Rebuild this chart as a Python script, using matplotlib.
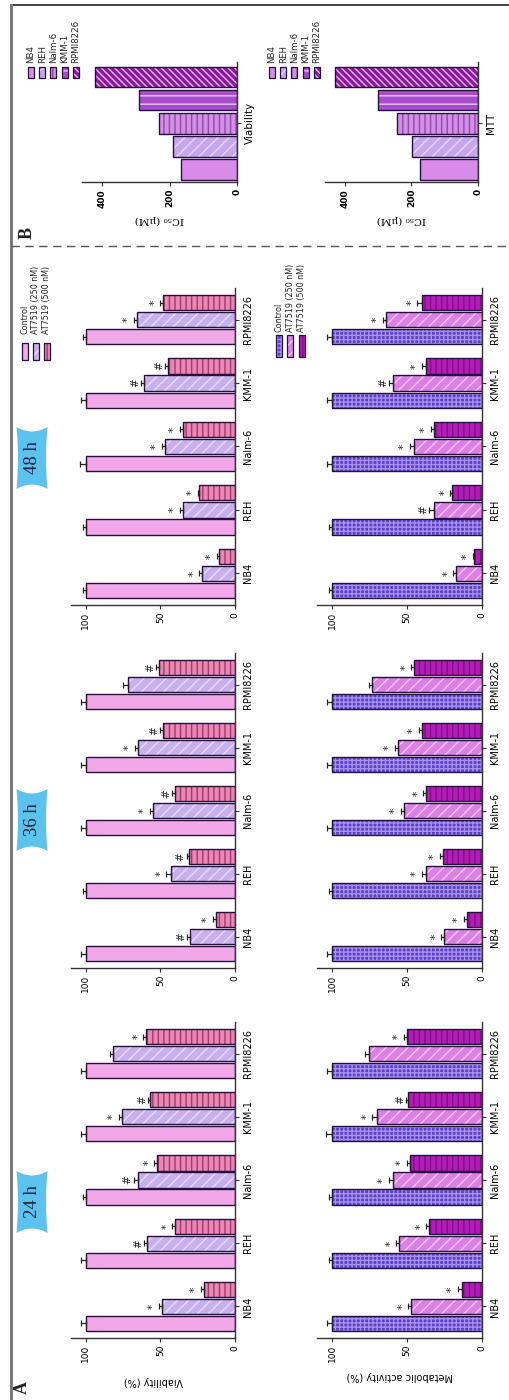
import matplotlib
matplotlib.use('Agg')
import matplotlib.pyplot as plt
from matplotlib.patches import Rectangle, PathPatch
from matplotlib.path import Path
import numpy as np

plt.rcParams['font.family'] = ['DejaVu Sans']
plt.rcParams['hatch.linewidth'] = 1.0

# ---------------- data ----------------
cells = ['NB4', 'REH', 'Nalm-6', 'KMM-1', 'RPMI8226']
treatments = ['Control', 'AT7519 (250 nM)', 'AT7519 (500 nM)']
times = ['24 h', '36 h', '48 h']

via_24_ctrl = [100, 100, 100, 100, 100]
via_24_250 = [49, 59, 65, 76, 82]
via_24_500 = [21, 40, 52, 57, 60]
via_24_err = [[3, 3, 2, 3, 3], [2, 2, 3, 2, 2], [2, 2, 2, 1.5, 1.5]]
via_24_sig = [['*', '#', '#', '*', ''], ['*', '*', '*', '#', '*']]

via_36_ctrl = [100, 100, 100, 100, 100]
via_36_250 = [30, 43, 55, 65, 72]
via_36_500 = [13, 31, 40, 48, 51]
via_36_err = [[3, 2, 3, 3, 3], [2, 3, 2, 2, 3], [2, 1.5, 2, 2, 2]]
via_36_sig = [['#', '*', '*', '*', ''], ['*', '#', '#', '#', '#']]

via_48_ctrl = [100, 100, 100, 100, 100]
via_48_250 = [22, 35, 47, 61, 66]
via_48_500 = [11, 24, 35, 45, 48]
via_48_err = [[2, 2, 4, 3, 2], [2, 2, 2, 2, 2], [1, 1, 2, 2, 2]]
via_48_sig = [['*', '*', '*', '#', '*'], ['*', '*', '*', '#', '*']]

mtt_24_ctrl = [100, 100, 100, 100, 100]
mtt_24_250 = [47, 55, 59, 70, 75]
mtt_24_500 = [13, 35, 48, 49, 50]
mtt_24_err = [[3, 2, 2, 4, 3], [2, 2, 3, 3, 3], [3, 2, 2, 1.5, 2]]
mtt_24_sig = [['*', '*', '*', '*', ''], ['*', '*', '*', '#', '*']]

mtt_36_ctrl = [100, 100, 100, 100, 100]
mtt_36_250 = [25, 37, 52, 56, 73]
mtt_36_500 = [10, 26, 37, 40, 45]
mtt_36_err = [[3, 2, 3, 3, 3], [2, 3, 2, 2, 2], [2, 2, 2, 2, 2]]
mtt_36_sig = [['*', '*', '*', '*', ''], ['*', '*', '*', '*', '*']]

mtt_48_ctrl = [100, 100, 100, 100, 100]
mtt_48_250 = [17, 32, 45, 59, 64]
mtt_48_500 = [5, 20, 32, 37, 40]
mtt_48_err = [[2, 2, 3, 3, 3], [2, 3, 3, 3, 2], [1, 1, 2, 3, 3]]
mtt_48_sig = [['*', '#', '*', '#', '*'], ['*', '*', '*', '*', '*']]

ic50_viability = [166, 190, 231, 291, 421]
ic50_mtt = [174, 198, 243, 300, 430]

# ---------------- styles ----------------
EDGE = '#24103c'
via_styles = [('#f2a7e8', '', None), ('#c8b0ee', '///', '#e8ddfa'), ('#ec86b4', '|||', '#9c3c6a')]
mtt_styles = [('#5b3fc6', '++++', '#a890f0'), ('#dc80e6', '///', '#f6c8f8'), ('#b41cb8', '|||', '#7e0f86')]
b_styles = [('#d98be9', '', None), ('#c7a6ee', '///', '#e6d8f9'), ('#d48ee8', '|||', '#8d4aa6'),
            ('#a84ccc', '--', '#ecc8f4'), ('#8a1a9c', '\\' * 5, '#e8b8ef')]

W, H = 510, 1400
fig = plt.figure(figsize=(W / 100, H / 100), dpi=100)


def px_axes(x0, y0, x1, y1):
    return fig.add_axes([x0 / W, 1 - y1 / H, (x1 - x0) / W, (y1 - y0) / H])


def styled_bar(ax, y, w, h, style):
    face, hatch, hc = style
    if hatch:
        ax.barh(y, w, height=h, color=face, hatch=hatch, edgecolor=hc, linewidth=0, zorder=2)
    else:
        ax.barh(y, w, height=h, color=face, linewidth=0, zorder=2)
    ax.barh(y, w, height=h, fill=False, edgecolor=EDGE, linewidth=1.0, zorder=3)


def style_axis(ax):
    for s in ['left', 'top']:
        ax.spines[s].set_visible(False)
    for s in ['bottom', 'right']:
        ax.spines[s].set_color('#333333')
        ax.spines[s].set_linewidth(1.0)
    ax.yaxis.tick_right()
    ax.patch.set_alpha(0)


def panel(rect, ctrl, t250, t500, errs, sigs, styles, xlabel=None, labelpad=8):
    ax = px_axes(*rect)
    style_axis(ax)
    pos = np.arange(len(cells))
    offs = [-0.27, 0.0, 0.27]
    vals = [ctrl, t250, t500]
    for k in range(3):
        for i in range(len(cells)):
            styled_bar(ax, pos[i] + offs[k], vals[k][i], 0.24, styles[k])
        ax.errorbar(vals[k], pos + offs[k], xerr=[np.zeros(len(cells)), errs[k]], fmt='none',
                    ecolor='#222222', elinewidth=0.9, capsize=2.2, capthick=0.9, zorder=4)
        if k > 0:
            for i in range(len(cells)):
                s = sigs[k - 1][i]
                if s:
                    ax.text(vals[k][i] + errs[k][i] + 4, pos[i] + offs[k], s, rotation=90,
                            ha='center', va='center', fontsize=7.5, color='#222222')
    ax.set_xlim(110, 0)
    ax.set_ylim(-0.5, 4.5)
    ax.set_xticks([0, 50, 100])
    ax.set_yticks(pos)
    ax.set_yticklabels(cells, rotation=90, va='center', fontsize=7)
    ax.tick_params(axis='x', labelrotation=90, labelsize=6.5, length=3, pad=2, color='#333333')
    ax.tick_params(axis='y', length=3, pad=3, color='#333333')
    if xlabel:
        ax.set_xlabel(xlabel, rotation=180, fontsize=7, labelpad=labelpad)
    return ax


rows = {'48 h': (288, 605), '36 h': (653, 968), '24 h': (1022, 1338)}
VX = (71, 235)
MX = (317, 482)

panel((VX[0], rows['24 h'][0], VX[1], rows['24 h'][1]), via_24_ctrl, via_24_250, via_24_500,
      via_24_err, via_24_sig, via_styles, 'Viability (%)', 10)
panel((VX[0], rows['36 h'][0], VX[1], rows['36 h'][1]), via_36_ctrl, via_36_250, via_36_500,
      via_36_err, via_36_sig, via_styles)
panel((VX[0], rows['48 h'][0], VX[1], rows['48 h'][1]), via_48_ctrl, via_48_250, via_48_500,
      via_48_err, via_48_sig, via_styles)
panel((MX[0], rows['24 h'][0], MX[1], rows['24 h'][1]), mtt_24_ctrl, mtt_24_250, mtt_24_500,
      mtt_24_err, mtt_24_sig, mtt_styles, 'Metabolic activity (%)', 6)
panel((MX[0], rows['36 h'][0], MX[1], rows['36 h'][1]), mtt_36_ctrl, mtt_36_250, mtt_36_500,
      mtt_36_err, mtt_36_sig, mtt_styles)
panel((MX[0], rows['48 h'][0], MX[1], rows['48 h'][1]), mtt_48_ctrl, mtt_48_250, mtt_48_500,
      mtt_48_err, mtt_48_sig, mtt_styles)


def ic50_panel(rect, vals, cat):
    ax = px_axes(*rect)
    style_axis(ax)
    pos = np.arange(len(cells)) - 2
    for i in range(len(cells)):
        styled_bar(ax, pos[i], vals[i], 0.9, b_styles[i])
    ax.set_xlim(460, 0)
    ax.set_ylim(-2.55, 2.65)
    ax.set_xticks([0, 200, 400])
    ax.set_yticks([0])
    ax.set_yticklabels([cat], rotation=90, va='center', fontsize=7.5)
    ax.tick_params(axis='x', labelrotation=90, labelsize=6.5, length=3, pad=2, color='#333333')
    for t in ax.get_xticklabels():
        t.set_fontweight('bold')
    ax.tick_params(axis='y', length=3, pad=3, color='#333333')
    ax.set_xlabel('IC₅₀ (µM)', rotation=180, fontsize=7.5, labelpad=5, family=['DejaVu Serif'])
    return ax


ic50_panel((82, 62, 237, 182), ic50_viability, 'Viability')
ic50_panel((325, 62, 478, 182), ic50_mtt, 'MTT')

# ---------------- overlay: frame, badges, legends, letters ----------------
ov = fig.add_axes([0, 0, 1, 1], zorder=-1)
ov.set_xlim(0, W)
ov.set_ylim(H, 0)
ov.axis('off')

ov.plot([11, W], [5, 5], color='#222222', lw=1.2)
ov.plot([11, 11], [5, H], color='#7a7a7a', lw=2.2)
ov.plot([11, W], [246, 246], color='#555555', lw=1.0, dashes=(6, 4))


def badge(cx, cy, label, w=31, h=62):
    x0, x1 = cx - w / 2, cx + w / 2
    y0, y1 = cy - h / 2, cy + h / 2
    verts = [(x0, y0), (cx, y0 + 9), (x1, y0), (x1 - 3, cy), (x1, y1), (cx, y1 - 9), (x0, y1),
             (x0 + 3, cy), (x0, y0)]
    codes = [Path.MOVETO, Path.CURVE3, Path.CURVE3, Path.CURVE3, Path.CURVE3, Path.CURVE3,
             Path.CURVE3, Path.CURVE3, Path.CURVE3]
    ov.add_patch(PathPatch(Path(verts, codes), facecolor='#5dc2ee', edgecolor='none'))
    ov.text(cx + 1, cy, label, rotation=90, ha='center', va='center', fontsize=13.5,
            family=['Liberation Serif'], color='#1b2340')


badge(32, 1202, times[0])
badge(32, 820, times[1])
badge(32, 458, times[2])


def legend(xs, y0, y1, ytext, labels, styles, pw=6, fs=6):
    for x, lab, st in zip(xs, labels, styles):
        face, hatch, hc = st
        if hatch:
            ov.add_patch(Rectangle((x - pw / 2, y0), pw, y1 - y0, facecolor=face, hatch=hatch,
                                   edgecolor=hc, linewidth=0))
        else:
            ov.add_patch(Rectangle((x - pw / 2, y0), pw, y1 - y0, facecolor=face, linewidth=0))
        ov.add_patch(Rectangle((x - pw / 2, y0), pw, y1 - y0, fill=False, edgecolor=EDGE,
                               linewidth=0.9))
        ov.text(x, ytext, lab, rotation=90, ha='center', va='bottom', fontsize=fs,
                color='#222222')


legend([25, 36, 47], 343, 360, 334, treatments, via_styles, fs=5.8)
legend([279, 290.5, 302], 335, 357, 332, treatments, mtt_styles, fs=5.8)
legend([31 + 11.2 * i for i in range(5)], 67, 78, 63, cells, b_styles, fs=6.2)
legend([272 + 11.2 * i for i in range(5)], 67, 78, 63, cells, b_styles, fs=6.2)

ov.text(22, 1388, 'A', rotation=90, ha='center', va='center', fontsize=13, fontweight='bold',
        family=['Liberation Serif'], color='#222222')
ov.text(27, 233, 'B', rotation=90, ha='center', va='center', fontsize=13, fontweight='bold',
        family=['Liberation Serif'], color='#222222')

fig.savefig('out.png', dpi=100, facecolor='white')
